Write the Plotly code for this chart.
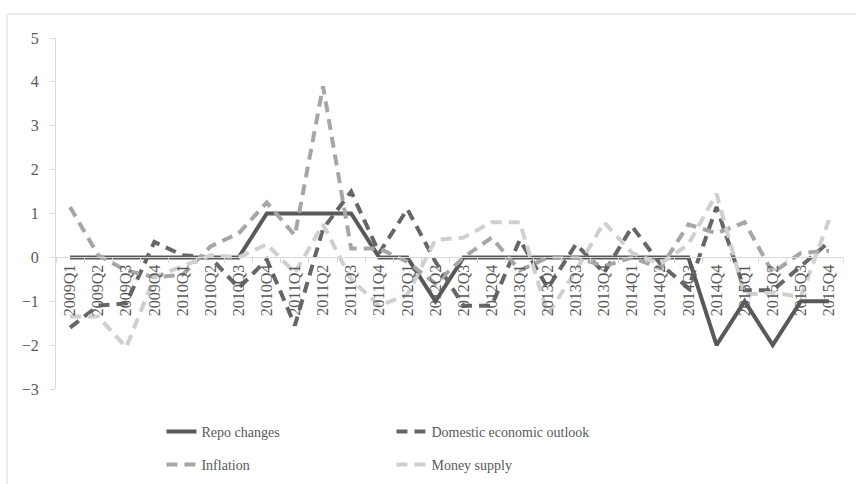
import plotly.graph_objects as go

quarters = ["2009Q1","2009Q2","2009Q3","2009Q4","2010Q1","2010Q2","2010Q3","2010Q4",
            "2011Q1","2011Q2","2011Q3","2011Q4","2012Q1","2012Q2","2012Q3","2012Q4",
            "2013Q1","2013Q2","2013Q3","2013Q4","2014Q1","2014Q2","2014Q3","2014Q4",
            "2015Q1","2015Q2","2015Q3","2015Q4"]

repo_changes = [0, 0, 0, 0, 0, 0, 0, 1,
                1, 1, 1, 0, 0, -1, 0, 0,
                0, 0, 0, 0, 0, 0, 0, -2,
                -1, -2, -1, -1]

domestic_outlook = [-1.6, -1.1, -1.05, 0.35, 0.05, 0.0, -0.7, -0.05,
                    -1.55, 0.65, 1.5, 0.1, 1.1, -0.1, -1.1, -1.1,
                    0.4, -0.7, 0.3, -0.35, 0.7, -0.15, -0.7, 1.15,
                    -0.75, -0.75, -0.2, 0.35]

inflation = [1.15, 0.05, -0.3, -0.45, -0.4, 0.25, 0.55, 1.25,
             0.5, 3.9, 0.2, 0.2, -0.1, -0.6, 0.0, 0.45,
             -0.3, 0.0, 0.0, -0.2, 0.0, -0.25, 0.75, 0.55,
             0.8, -0.35, 0.1, 0.15]

money_supply = [-1.35, -1.35, -2.05, -0.45, -0.2, 0.05, 0.0, 0.3,
                -0.35, 0.75, -0.5, -1.1, -0.85, 0.4, 0.45, 0.8,
                0.8, -1.3, -0.3, 0.8, 0.1, -0.15, 0.3, 1.45,
                -0.85, -0.8, -0.9, 0.85]

series = [
    ("Repo changes", repo_changes, "#595959", "solid", "legend"),
    ("Domestic economic outlook", domestic_outlook, "#666666", "11px,7px", "legend"),
    ("Inflation", inflation, "#a6a6a6", "11px,7px", "legend2"),
    ("Money supply", money_supply, "#cfcfcf", "11px,7px", "legend2"),
]

fig = go.Figure()
for name, vals, color, dash, leg in series:
    fig.add_trace(go.Scatter(
        x=quarters, y=vals, name=name, mode="lines",
        line=dict(color=color, width=4, dash=dash),
        legend=leg,
    ))

font_family = "Liberation Serif, Times New Roman, serif"
legend_common = dict(
    orientation="h", xanchor="left", yanchor="middle",
    entrywidth=185, font=dict(family=font_family, size=14, color="#595959"),
    bgcolor="rgba(0,0,0,0)", tracegroupgap=0,
)

fig.update_layout(
    width=856, height=484,
    margin=dict(l=56, r=13, t=38, b=95, autoexpand=False),
    paper_bgcolor="white", plot_bgcolor="white",
    font=dict(family=font_family, size=14, color="#595959"),
    showlegend=True,
    legend=dict(x=0.134, y=-0.1225, **legend_common),
    legend2=dict(x=0.134, y=-0.2165, **legend_common),
    xaxis=dict(
        type="category", range=[-0.5, len(quarters) - 0.5],
        anchor="free", position=0.375,
        showline=True, linecolor="#d9d9d9", linewidth=1,
        ticks="outside", tickson="boundaries", ticklen=5, tickcolor="#d9d9d9",
        tickangle=-90, showgrid=False, zeroline=False, automargin=False,
        tickfont=dict(family=font_family, size=16, color="#595959"),
    ),
    yaxis=dict(
        range=[-3, 5], dtick=1, tick0=0,
        showline=True, linecolor="#d9d9d9", linewidth=1,
        ticks="outside", ticklen=5, tickcolor="#d9d9d9", ticklabelstandoff=8,
        showgrid=False, zeroline=False, automargin=False,
        tickfont=dict(family=font_family, size=16, color="#595959"),
    ),
    shapes=[dict(type="rect", xref="paper", yref="paper",
                 x0=(7 - 56) / 787, x1=(860 - 56) / 787,
                 y0=(389 - 490) / 351, y1=(389 - 14) / 351,
                 line=dict(color="#d9d9d9", width=1), fillcolor="rgba(0,0,0,0)",
                 layer="below")],
)

fig.write_html("out.html",
               config={"displayModeBar": False},
               post_script="document.body.style.margin='0';document.body.style.overflow='hidden';")
